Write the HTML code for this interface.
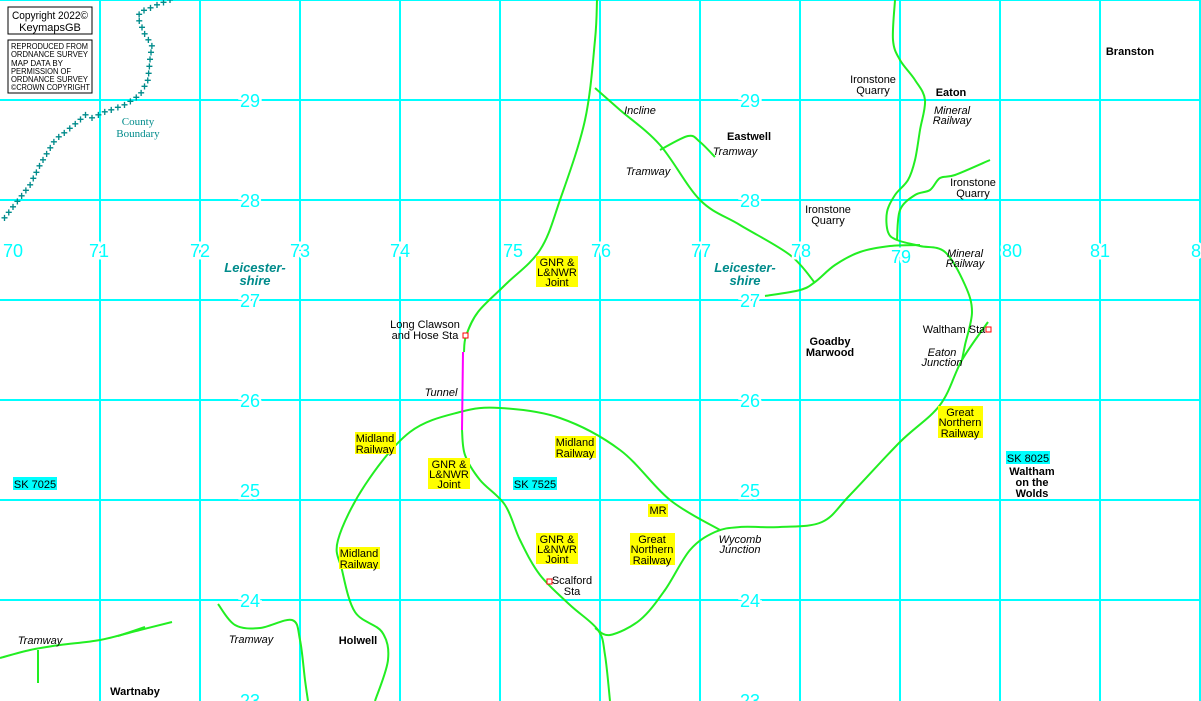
<!DOCTYPE html>
<html><head><meta charset="utf-8"><style>
html,body{margin:0;padding:0;background:#fff;}
svg{display:block;}
text{font-family:"Liberation Sans",sans-serif;font-size:11px;fill:#000;}
.b{font-weight:bold;}
.i{font-style:italic;}
.n{fill:#00ffff;font-size:18px;stroke:#fff;stroke-width:5px;paint-order:stroke;}
.lc{fill:#008b8b;font-size:13px;font-weight:bold;font-style:italic;}
.cb{fill:#008b8b;font-family:"Liberation Serif",serif;font-size:11px;}
</style></head><body>
<svg id="s" width="1201" height="701" viewBox="0 0 1201 701" xmlns="http://www.w3.org/2000/svg">
<g stroke="#00ffff" stroke-width="2">
<line x1="0" y1="0" x2="1201" y2="0"/>
<line x1="100" y1="0" x2="100" y2="701"/><line x1="200" y1="0" x2="200" y2="701"/>
<line x1="300" y1="0" x2="300" y2="701"/><line x1="400" y1="0" x2="400" y2="701"/>
<line x1="500" y1="0" x2="500" y2="701"/><line x1="600" y1="0" x2="600" y2="701"/>
<line x1="700" y1="0" x2="700" y2="701"/><line x1="800" y1="0" x2="800" y2="701"/>
<line x1="900" y1="0" x2="900" y2="701"/><line x1="1000" y1="0" x2="1000" y2="701"/>
<line x1="1100" y1="0" x2="1100" y2="701"/><line x1="1200" y1="0" x2="1200" y2="701"/>
<line x1="0" y1="100" x2="1201" y2="100"/><line x1="0" y1="200" x2="1201" y2="200"/>
<line x1="0" y1="300" x2="1201" y2="300"/><line x1="0" y1="400" x2="1201" y2="400"/>
<line x1="0" y1="500" x2="1201" y2="500"/><line x1="0" y1="600" x2="1201" y2="600"/>
</g>
<g id="cbg"></g>
<g id="rails" fill="none" stroke="#22ee22" stroke-width="2" stroke-linejoin="round">
<polyline points="597,0 595,40 585,120 560,200 540,250 505,285 478,312 466,336 464,352"/>
<polyline points="462,430 465,455 480,480 505,505 520,540 540,575 570,605 598,630 605,655 610,701"/>
<polyline points="375,701 388,660 382,632 355,612 342,570 338,540 365,485 410,432 460,412 500,408 560,418 620,450 670,500 720,530"/>
<polyline points="988,322 962,360 940,405 900,442 850,495 822,522 780,527 740,527 715,532 690,550 665,590 640,620 610,635 595,628"/>
<polyline points="895,0 893,40 900,60 915,80 925,100 920,130 915,160 908,180 895,195 887,212 888,232 897,240 920,246 945,252 965,285 972,312 965,345 962,360"/>
<polyline points="765,296 800,290 815,282 835,265 860,252 890,246 920,245"/>
<polyline points="595,88 620,110 660,145 700,200 740,225 790,255 815,283"/>
<polyline points="660,150 688,136 700,142 715,157"/>
<polyline points="897,240 900,210 915,195 930,190 940,178 955,175 990,160"/>
<polyline points="0,658 30,650 60,645 100,640 140,630 172,622"/>
<polyline points="38,650 38,683"/><polyline points="118,636 145,627"/>
<polyline points="218,604 235,625 260,628 292,620 300,640 305,680 308,701"/>
</g>
<line x1="463" y1="352" x2="462" y2="430" stroke="#ff00ff" stroke-width="2"/>
<g fill="#fff" stroke="#ff0000" stroke-width="1">
<rect x="463" y="333" width="5" height="5"/><rect x="547" y="579" width="5" height="5"/><rect x="986" y="327" width="5" height="5"/>
</g>
<rect x="8" y="7" width="84" height="27" fill="#fff" stroke="#000"/>
<text x="12" y="19" textLength="76" lengthAdjust="spacingAndGlyphs">Copyright 2022©</text>
<text x="50" y="31" text-anchor="middle">KeymapsGB</text>
<rect x="8" y="40" width="84" height="53" fill="#fff" stroke="#000"/>
<text x="11" y="49" style="font-size:8px" textLength="77" lengthAdjust="spacingAndGlyphs">REPRODUCED FROM</text>
<text x="11" y="57" style="font-size:8px" textLength="77" lengthAdjust="spacingAndGlyphs">ORDNANCE SURVEY</text>
<text x="11" y="66" style="font-size:8px" textLength="52" lengthAdjust="spacingAndGlyphs">MAP DATA BY</text>
<text x="11" y="74" style="font-size:8px" textLength="60" lengthAdjust="spacingAndGlyphs">PERMISSION OF</text>
<text x="11" y="82" style="font-size:8px" textLength="77" lengthAdjust="spacingAndGlyphs">ORDNANCE SURVEY</text>
<text x="11" y="90" style="font-size:8px" textLength="79" lengthAdjust="spacingAndGlyphs">©CROWN COPYRIGHT</text>
<text class="cb" x="138" y="125" text-anchor="middle">County</text>
<text class="cb" x="138" y="137" text-anchor="middle">Boundary</text>
<g text-anchor="middle">
<text class="n" x="250" y="107">29</text><text class="n" x="750" y="107">29</text>
<text class="n" x="250" y="207">28</text><text class="n" x="750" y="207">28</text>
<text class="n" x="250" y="307">27</text><text class="n" x="750" y="307">27</text>
<text class="n" x="250" y="407">26</text><text class="n" x="750" y="407">26</text>
<text class="n" x="250" y="497">25</text><text class="n" x="750" y="497">25</text>
<text class="n" x="250" y="607">24</text><text class="n" x="750" y="607">24</text>
<text class="n" x="250" y="707">23</text><text class="n" x="750" y="707">23</text>
<text class="n" x="13" y="257">70</text><text class="n" x="99" y="257">71</text>
<text class="n" x="200" y="257">72</text><text class="n" x="300" y="257">73</text>
<text class="n" x="400" y="257">74</text><text class="n" x="513" y="257">75</text>
<text class="n" x="601" y="257">76</text><text class="n" x="701" y="257">77</text>
<text class="n" x="801" y="257">78</text><text class="n" x="901" y="263">79</text>
<text class="n" x="1012" y="257">80</text><text class="n" x="1100" y="257">81</text>
<text class="n" x="1196" y="257">8</text>
</g>
<text class="lc" x="255" y="272" text-anchor="middle">Leicester-</text>
<text class="lc" x="255" y="285" text-anchor="middle">shire</text>
<text class="lc" x="745" y="272" text-anchor="middle">Leicester-</text>
<text class="lc" x="745" y="285" text-anchor="middle">shire</text>
<g fill="#ffff00">
<rect x="536" y="256" width="42" height="31"/><rect x="428" y="458" width="42" height="31"/>
<rect x="536" y="533" width="42" height="31"/><rect x="355" y="432" width="41" height="22"/>
<rect x="555" y="436" width="41" height="22"/><rect x="339" y="547" width="41" height="22"/>
<rect x="630" y="533" width="45" height="32"/><rect x="648" y="504" width="20" height="13"/>
<rect x="938" y="406" width="45" height="32"/>
</g>
<g fill="#00ffff"><rect x="13" y="477" width="44" height="13"/><rect x="513" y="477" width="44" height="13"/><rect x="1006" y="451" width="44" height="13"/></g>
<g text-anchor="middle">
<text x="557" y="266">GNR &amp;</text><text x="557" y="276">L&amp;NWR</text><text x="557" y="286">Joint</text>
<text x="449" y="468">GNR &amp;</text><text x="449" y="478">L&amp;NWR</text><text x="449" y="488">Joint</text>
<text x="557" y="543">GNR &amp;</text><text x="557" y="553">L&amp;NWR</text><text x="557" y="563">Joint</text>
<text x="375" y="442">Midland</text><text x="375" y="453">Railway</text>
<text x="575" y="446">Midland</text><text x="575" y="457">Railway</text>
<text x="359" y="557">Midland</text><text x="359" y="568">Railway</text>
<text x="652" y="543">Great</text><text x="652" y="553">Northern</text><text x="652" y="564">Railway</text>
<text x="658" y="514">MR</text>
<text x="960" y="416">Great</text><text x="960" y="426">Northern</text><text x="960" y="437">Railway</text>
<text x="35" y="488">SK 7025</text><text x="535" y="488">SK 7525</text><text x="1028" y="462">SK 8025</text>
<text x="425" y="328">Long Clawson</text><text x="425" y="339">and Hose Sta</text>
<text x="873" y="83">Ironstone</text><text x="873" y="94">Quarry</text>
<text x="828" y="213">Ironstone</text><text x="828" y="224">Quarry</text>
<text x="973" y="186">Ironstone</text><text x="973" y="197">Quarry</text>
<text x="954" y="333">Waltham Sta</text>
<text x="572" y="584">Scalford</text><text x="572" y="595">Sta</text>
<text class="b" x="1130" y="55">Branston</text>
<text class="b" x="951" y="96">Eaton</text>
<text class="b" x="749" y="140">Eastwell</text>
<text class="b" x="830" y="345">Goadby</text><text class="b" x="830" y="356">Marwood</text>
<text class="b" x="1032" y="475">Waltham</text><text class="b" x="1032" y="486">on the</text><text class="b" x="1032" y="497">Wolds</text>
<text class="b" x="358" y="644">Holwell</text>
<text class="b" x="135" y="695">Wartnaby</text>
</g>
<g text-anchor="middle">
<text class="i" x="640" y="114">Incline</text>
<text class="i" x="735" y="155">Tramway</text>
<text class="i" x="648" y="175">Tramway</text>
<text class="i" x="952" y="114">Mineral</text><text class="i" x="952" y="124">Railway</text>
<text class="i" x="965" y="257">Mineral</text><text class="i" x="965" y="267">Railway</text>
<text class="i" x="942" y="356">Eaton</text><text class="i" x="942" y="366">Junction</text>
<text class="i" x="441" y="396">Tunnel</text>
<text class="i" x="740" y="543">Wycomb</text><text class="i" x="740" y="553">Junction</text>
<text class="i" x="40" y="644">Tramway</text>
<text class="i" x="251" y="643">Tramway</text>
</g>
</svg>
<script>
(function(){
var ns='http://www.w3.org/2000/svg';
// smooth rails with Catmull-Rom
var pl=document.querySelectorAll('#rails polyline');
for(var k=0;k<pl.length;k++){var p=pl[k].getAttribute('points').trim().split(/\s+/).map(function(s){return s.split(',').map(Number);});
if(p.length<3)continue;var d='M'+p[0][0]+','+p[0][1];
for(var i=0;i<p.length-1;i++){var p0=p[i-1]||p[i],p1=p[i],p2=p[i+1],p3=p[i+2]||p2;
d+=' C'+(p1[0]+(p2[0]-p0[0])/6)+','+(p1[1]+(p2[1]-p0[1])/6)+' '+(p2[0]-(p3[0]-p1[0])/6)+','+(p2[1]-(p3[1]-p1[1])/6)+' '+p2[0]+','+p2[1];}
var path=document.createElementNS(ns,'path');path.setAttribute('d',d);pl[k].parentNode.replaceChild(path,pl[k]);}
var pts=[[170,0],[140,12],[138,18],[145,35],[152,45],[150,60],[148,80],[140,95],[125,105],[105,112],[92,118],[85,115],[78,122],[55,140],[40,165],[30,185],[20,198],[3,220]];
var g=document.getElementById('cbg'),dd=0,step=7;
for(var i=1;i<pts.length;i++){var a=pts[i-1],b=pts[i],L=Math.hypot(b[0]-a[0],b[1]-a[1]);
while(dd<=L){var t=dd/L,x=a[0]+(b[0]-a[0])*t,y=a[1]+(b[1]-a[1])*t;
var tx=document.createElementNS(ns,'text');tx.setAttribute('x',x);tx.setAttribute('y',y+4);tx.setAttribute('text-anchor','middle');tx.setAttribute('style','fill:#008b8b;font-size:12px;font-weight:bold');tx.textContent='+';g.appendChild(tx);dd+=step;}
dd-=L;}
})();
</script>
</body></html>
